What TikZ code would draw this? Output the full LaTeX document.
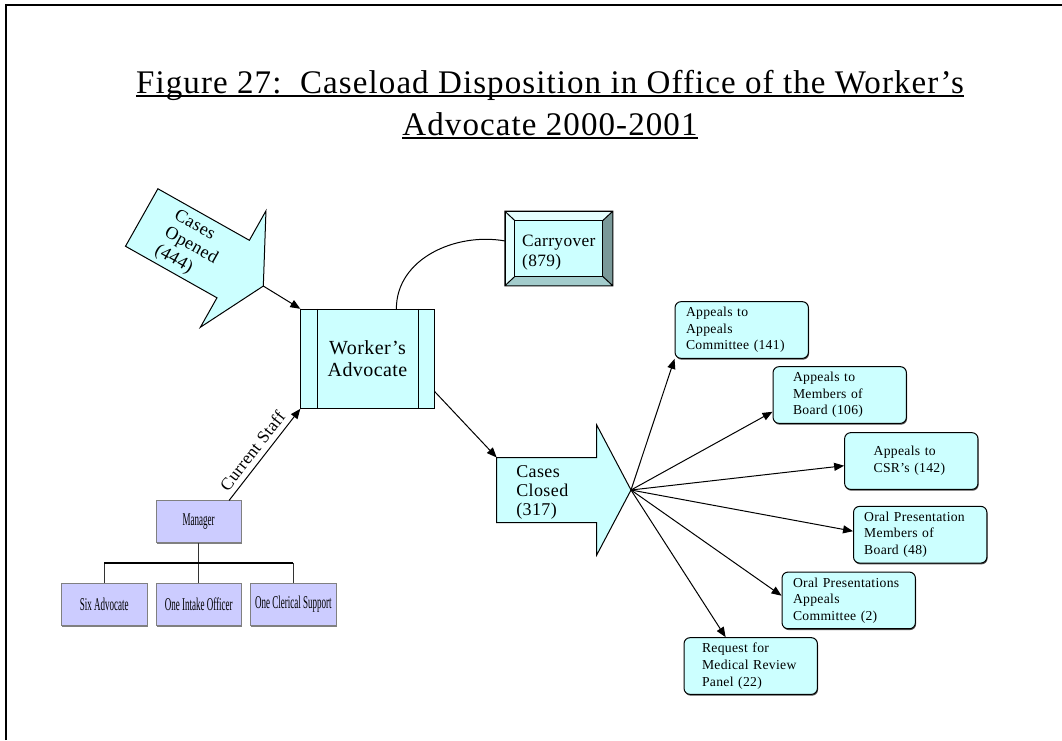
\documentclass[tikz,border=0pt]{standalone}
\usepackage{fontspec}
\setmainfont{Liberation Serif}[LetterSpace=2.2]
\newfontfamily\orgfont{Liberation Serif}[FakeStretch=0.5]
\usetikzlibrary{arrows.meta,shadows,calc}
\hyphenpenalty=10000

\definecolor{boxcyan}{HTML}{CCFFFF}
\definecolor{orgblue}{HTML}{CCCCFF}
\definecolor{bevellight}{HTML}{E5FFFF}
\definecolor{beveldark}{HTML}{7A9999}
\definecolor{bevelmid}{HTML}{A3CCCC}

\tikzset{
	arr/.style={-{Triangle[length=7.5pt,width=6pt]}, line width=0.75pt},
	bigarrow/.style={draw=black, fill=boxcyan, line width=0.75pt},
	appeal/.style={draw=black, fill=boxcyan, rounded corners=4.5pt, line width=0.75pt,
		minimum height=42.5pt, inner ysep=0pt, align=left,
		font=\fontsize{10.25}{12.5}\selectfont,
		drop shadow={shadow xshift=0.5pt, shadow yshift=-1pt, fill=black!70, opacity=1}},
	orgbox/.style={draw=gray, fill=orgblue, minimum width=64pt, minimum height=31.5pt,
		inner sep=0pt, font=\orgfont\fontsize{13.5}{15}\selectfont,
		drop shadow={shadow xshift=0.5pt, shadow yshift=-1pt, fill=gray, opacity=1}},
	orgline/.style={line width=0.75pt, black!80}
}

\begin{document}
\begin{tikzpicture}[x=0.75pt, y=-0.75pt]
	\useasboundingbox (0,0) rectangle (1062,740);
	\draw[line width=1.5pt] (5.5,740) -- (5.5,4.5) -- (1062,4.5);

	% title
	\node (title1) [anchor=base, inner sep=0pt, font=\fontsize{24.75}{30}\selectfont\addfontfeature{LetterSpace=3.3}] at (550,93.3) {Figure 27:\ \ Caseload Disposition in Office of the Worker’s};
	\node (title2) [anchor=base, inner sep=0pt, font=\fontsize{24.75}{30}\selectfont\addfontfeature{LetterSpace=3.3}] at (550,135) {Advocate 2000-2001};
	\draw[line width=1.5pt] ([yshift=-2.2pt]title1.base west) -- ([yshift=-2.2pt]title1.base east);
	\draw[line width=1.5pt] ([yshift=-2.2pt]title2.base west) -- ([yshift=-2.2pt]title2.base east);

	% cases opened
	\begin{scope}[shift={(141.7,217.5)}, rotate=-29.4]
		\draw[bigarrow] (0,-33) -- (105,-33) -- (105,-66.8) -- (139.6,0) coordinate (openTip)
			-- (105,66.8) -- (105,33) -- (0,33) -- cycle;
		\node (openText) [rotate=-29.4, align=left, inner sep=0pt, font=\fontsize{13.5}{15}\selectfont] at (57,1) {Cases\\Opened\\(444)};
	\end{scope}

	% worker's advocate
	\node (wa) [draw, fill=boxcyan, line width=0.75pt, minimum width=100pt, minimum height=74.25pt,
		inner sep=0pt, align=center, font=\fontsize{15}{16.5}\selectfont] at (367.5,358.8) {Worker’s\\Advocate};
	\draw[line width=0.75pt] ([xshift=12.5pt]wa.north west) -- ([xshift=12.5pt]wa.south west)
		([xshift=-12.5pt]wa.north east) -- ([xshift=-12.5pt]wa.south east);

	% carryover
	\node (co) [draw, fill=bevellight, line width=0.75pt, minimum width=80.25pt, minimum height=55.2pt, inner sep=0pt] at (558.8,248.5) {};
	\coordinate (coA) at ([shift={(7.5pt,-7pt)}]co.north west);
	\coordinate (coB) at ([shift={(-7.5pt,-7pt)}]co.north east);
	\coordinate (coC) at ([shift={(-7.5pt,7pt)}]co.south east);
	\coordinate (coD) at ([shift={(7.5pt,7pt)}]co.south west);
	\fill[beveldark] (co.north east) -- (co.south east) -- (coC) -- (coB) -- cycle;
	\fill[bevelmid] (co.south west) -- (co.south east) -- (coC) -- (coD) -- cycle;
	\filldraw[fill=boxcyan, line width=0.75pt] (coA) rectangle (coC);
	\draw[line width=0.75pt] (co.north west) rectangle (co.south east)
		(co.north west) -- (coA) (co.north east) -- (coB) (co.south east) -- (coC) (co.south west) -- (coD);
	\node (coText) [align=left, inner sep=0pt, font=\fontsize{13}{15}\selectfont] at ([yshift=-3pt]co.center) {Carryover\\(879)};

	% cases closed
	\draw[bigarrow] (496.7,457.5) coordinate (closedTail) -- (596.7,457.5) -- (596.7,425) -- (631,490) coordinate (closedTip)
		-- (596.7,555) -- (596.7,522.5) -- (496.7,522.5) -- cycle;
	\node (closedText) [anchor=west, align=left, inner sep=0pt, font=\fontsize{13.5}{14.4}\selectfont] at (516,492.3) {Cases\\Closed\\(317)};

	% appeals
	\node (appComm) [appeal, inner xsep=8.25pt, text width=83.5pt] at (741.7,330) {Appeals to\\Appeals\\Committee (141)};
	\node (appBoard) [appeal, inner xsep=15pt, text width=70pt] at (839.7,395) {Appeals to\\Members of\\Board (106)};
	\node (appCSR) [appeal, inner xsep=21.75pt, text width=56.5pt] at (911.3,461) {Appeals to\\CSR’s (142)};
	\node (oralBoard) [appeal, inner xsep=8pt, text width=84pt] at (920.2,534.7) {Oral Presentation\\Members of\\Board (48)};
	\node (oralComm) [appeal, inner xsep=8.25pt, text width=83.5pt] at (848.7,600.4) {Oral Presentations\\Appeals\\Committee (2)};
	\node (medPanel) [appeal, inner xsep=13.5pt, text width=73pt] at (750.7,666) {Request for\\Medical Review\\Panel (22)};

	% staff
	\node (mgr) [orgbox] at (198.7,521.7) {Manager};
	\node (six) [orgbox] at (104.2,604.2) {Six Advocate};
	\node (intake) [orgbox] at (198.7,604.2) {One Intake Officer};
	\node (clerical) [orgbox] at (293.3,604.2) {One Clerical Support};
	\draw[orgline] (mgr.south) -- ++(0,20) coordinate (bus);
	\draw[orgline] (six.north) -- (six.north |- bus) (intake.north) -- (bus) (clerical.north) -- (clerical.north |- bus);
	\draw[line width=1.5pt] (six.north |- bus) -- (clerical.north |- bus);

	% connectors
	\draw[arr] (openTip) -- (wa.north west);
	\draw[line width=0.75pt] (wa.60) to[out=90, in=170] (co.172);
	\draw[arr] (mgr.35) -- node[pos=0.46, above, sloped, inner sep=4pt, font=\fontsize{13}{15}\selectfont] {Current Staff} (wa.south west);
	\draw[arr] (wa.-26) -- (closedTail);
	\foreach \target/\anc in {appComm/south west, appBoard/194, appCSR/184, oralBoard/177, oralComm/176, medPanel/131}
		\draw[arr] (closedTip) -- (\target.\anc);
\end{tikzpicture}
\end{document}
